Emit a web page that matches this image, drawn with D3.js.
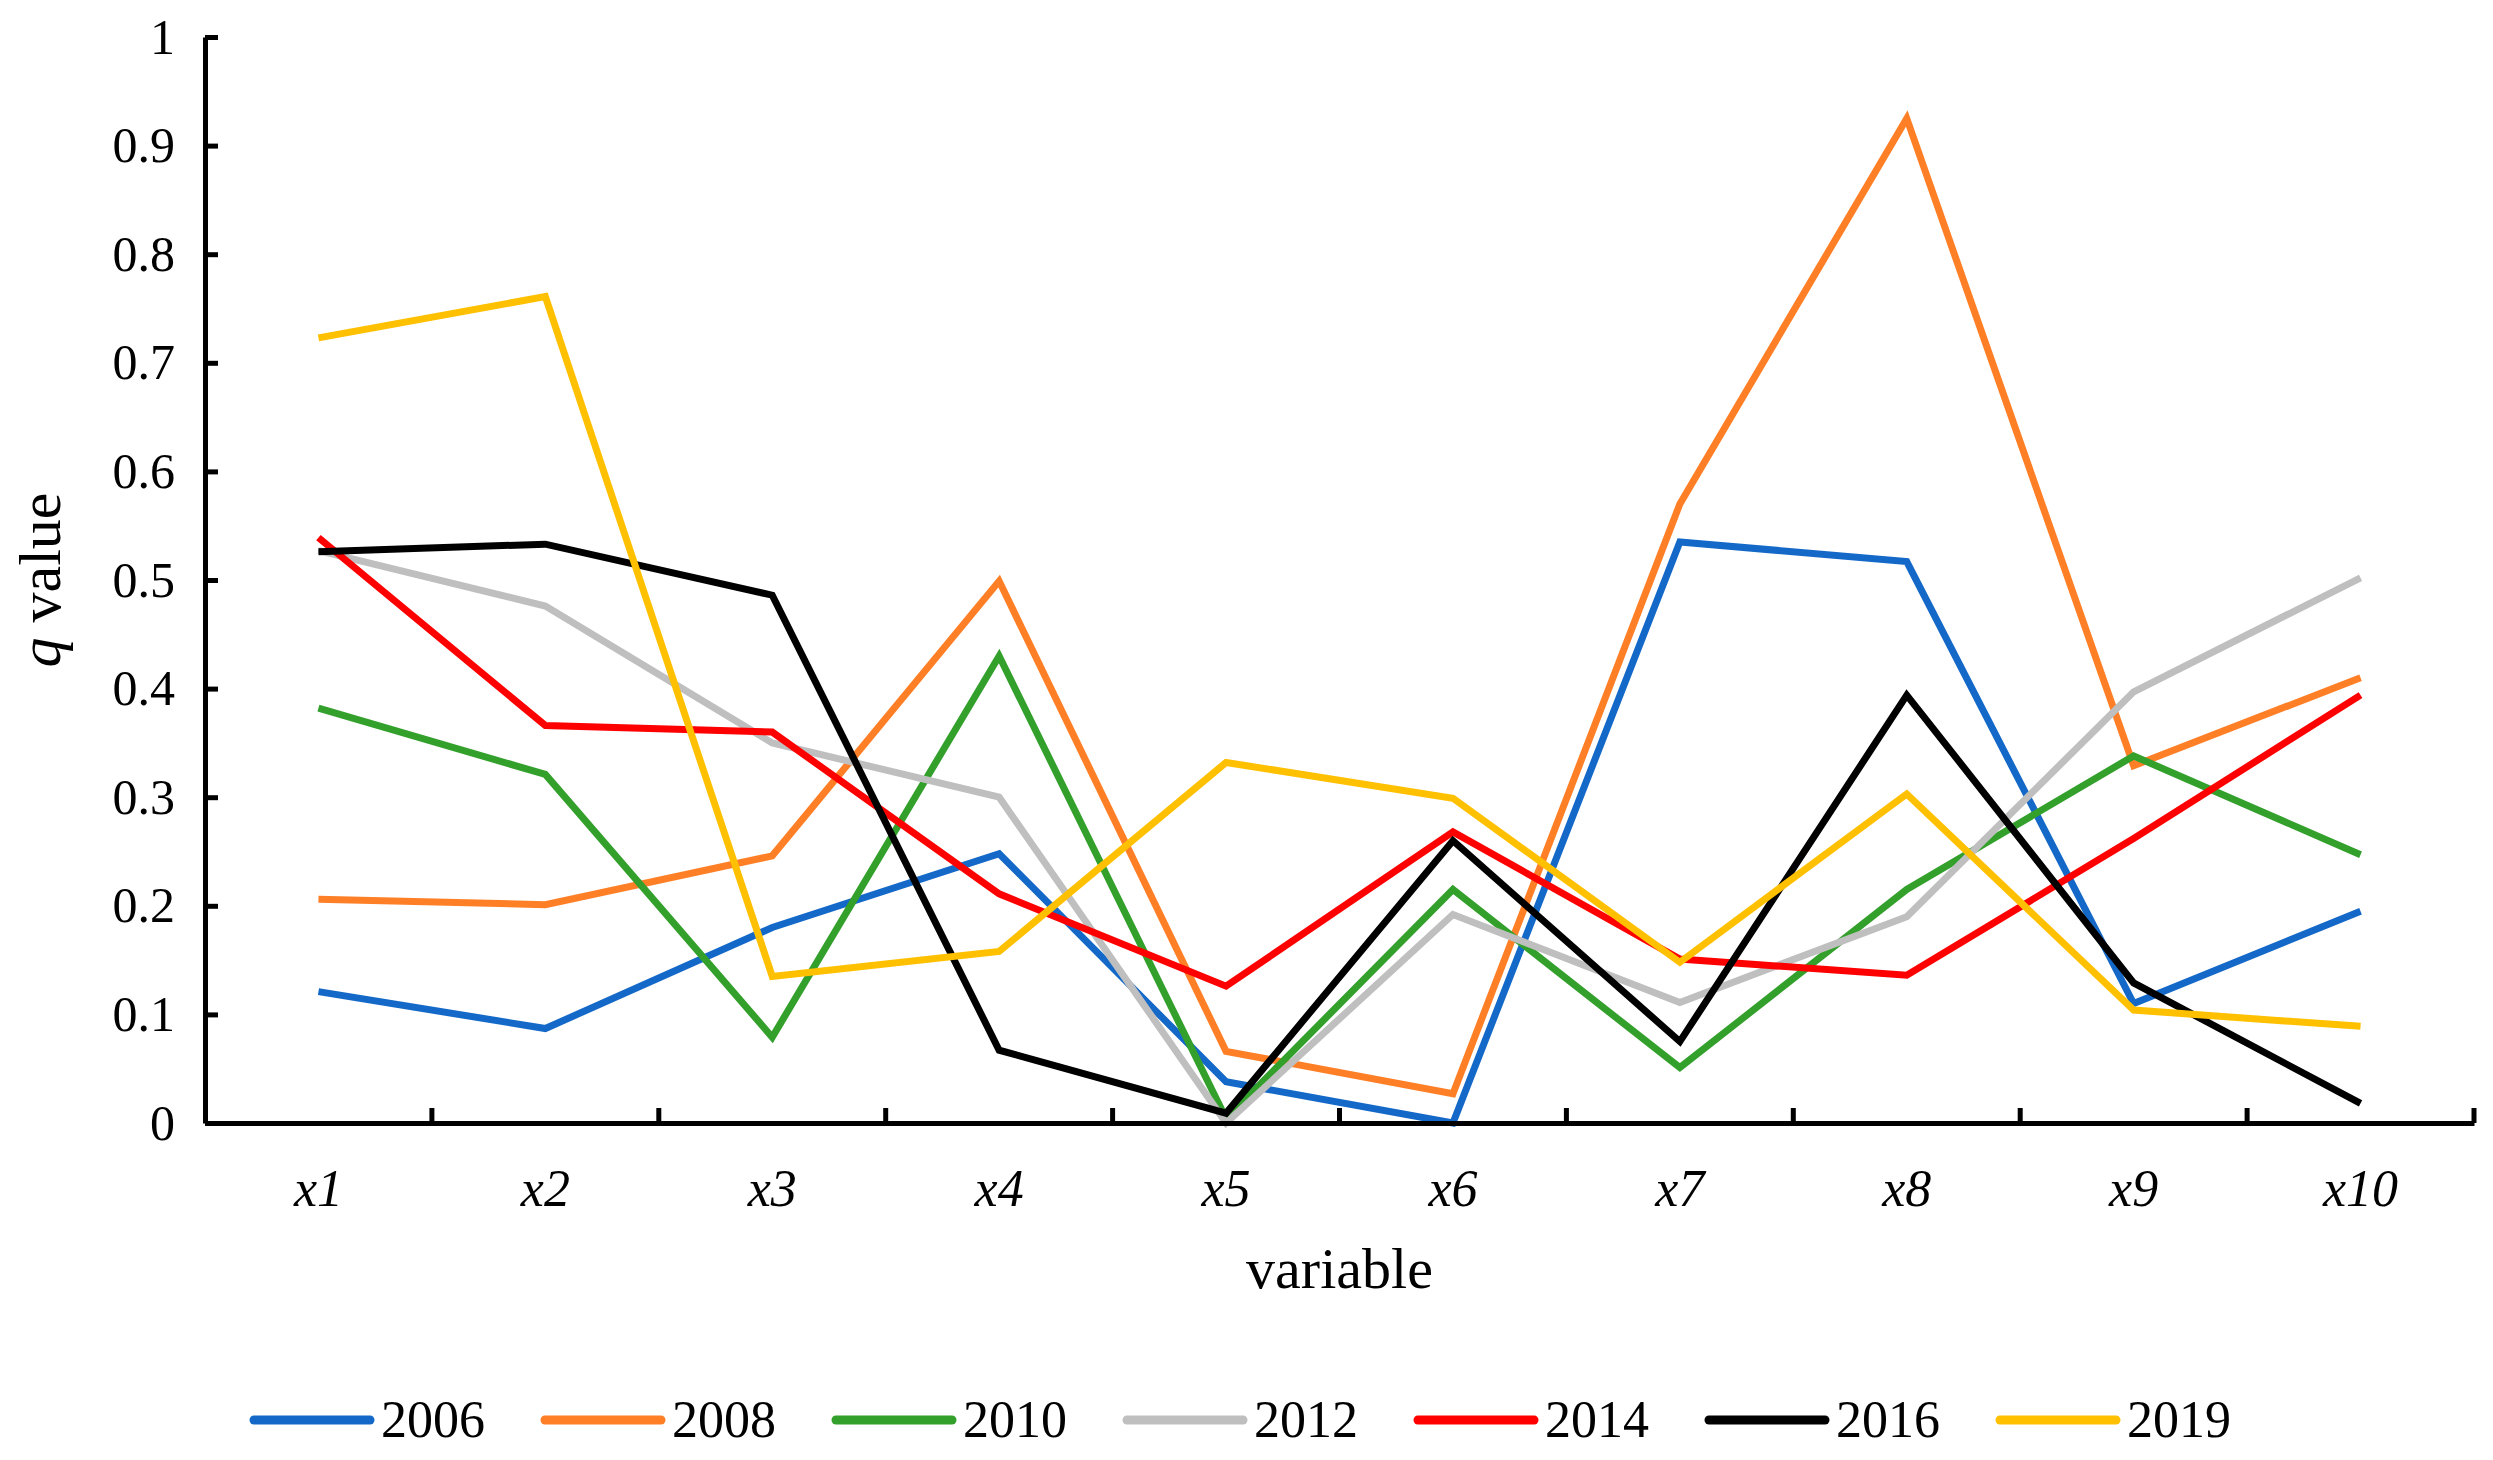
<!DOCTYPE html>
<html><head><meta charset="utf-8">
<script src="https://cdn.jsdelivr.net/npm/d3@7"></script>
<style>body{margin:0;background:#fff}svg{display:block}text{font-family:'Liberation Serif','Times New Roman',serif}</style>
</head><body>
<script>
const categories = ["x1","x2","x3","x4","x5","x6","x7","x8","x9","x10"];
const years = ["2006","2008","2010","2012","2014","2016","2019"];
const colors = ["#1469C8","#FF7F27","#33A02C","#BFBFBF","#FF0000","#000000","#FFC000"];
const v2006 = [0.121,0.087,0.180,0.248,0.038,0.000,0.535,0.517,0.110,0.195];
const v2008 = [0.206,0.201,0.246,0.499,0.066,0.027,0.570,0.925,0.329,0.410];
const v2010 = [0.382,0.321,0.079,0.430,0.004,0.215,0.051,0.215,0.338,0.247];
const v2012 = [0.527,0.476,0.350,0.300,0.000,0.192,0.111,0.190,0.397,0.502];
const v2014 = [0.539,0.366,0.360,0.211,0.126,0.268,0.151,0.136,0.262,0.394];
const v2016 = [0.526,0.533,0.486,0.067,0.009,0.260,0.075,0.394,0.129,0.018];
const v2019 = [0.723,0.761,0.135,0.158,0.332,0.299,0.148,0.303,0.104,0.089];
const yTicks = [0,0.1,0.2,0.3,0.4,0.5,0.6,0.7,0.8,0.9,1];
const series = [v2006,v2008,v2010,v2012,v2014,v2016,v2019];

const W = 2493, H = 1460;
const svg = d3.select("body").append("svg").attr("width",W).attr("height",H);
const font = "'Liberation Serif','Times New Roman',serif";
const L = 205, R = 2474, T = 37, B = 1123;
const x = d3.scaleBand().domain(categories).range([L,R]);
const y = d3.scaleLinear().domain([0,1]).range([B,T]);

// lines
const line = d3.line().x((d,i)=>x(categories[i])+x.bandwidth()/2).y(d=>y(d));
series.forEach((s,k)=>{
  svg.append("path").datum(s).attr("d",line).attr("fill","none")
    .attr("stroke",colors[k]).attr("stroke-width",7).attr("stroke-linejoin","miter");
});

// y axis
const yAxis = svg.append("g").attr("transform",`translate(${L},0)`)
  .call(d3.axisLeft(y).tickValues(yTicks).tickSize(-13).tickSizeOuter(0).tickPadding(30).tickFormat(d=>d3.format("")(+d.toFixed(1))));
yAxis.attr("font-family",font).attr("font-size",50);
yAxis.select(".domain").attr("stroke","#000").attr("stroke-width",5);
yAxis.selectAll(".tick line").attr("stroke","#000").attr("stroke-width",5);
yAxis.selectAll(".tick text").style("font-family",font).attr("font-size",50).attr("fill","#000");

// x axis
const xAxis = svg.append("g").attr("transform",`translate(0,${B})`)
  .call(d3.axisBottom(x).tickSize(0).tickPadding(0).tickFormat(""));
xAxis.select(".domain").attr("stroke","#000").attr("stroke-width",5);
const bounds = d3.range(categories.length+1).map(i=>L+i*x.step());
svg.append("g").selectAll("line").data(bounds.slice(1)).join("line")
  .attr("x1",d=>d).attr("x2",d=>d).attr("y1",B).attr("y2",B-15)
  .attr("stroke","#000").attr("stroke-width",5);
svg.append("g").selectAll("text").data(categories).join("text")
  .attr("x",d=>x(d)+x.bandwidth()/2).attr("y",1206)
  .attr("text-anchor","middle").attr("font-family",font).attr("font-style","italic")
  .attr("font-size",52).text(d=>d);

// axis titles
svg.append("text").attr("x",(L+R)/2).attr("y",1288).attr("text-anchor","middle")
  .attr("font-family",font).attr("font-size",58).text("variable");
const yt = svg.append("text").attr("transform",`translate(60,${(T+B)/2}) rotate(-90)`)
  .attr("text-anchor","middle").attr("font-family",font).attr("font-size",60);
yt.append("tspan").attr("font-style","italic").text("q");
yt.append("tspan").text(" value");

// legend
const legX0 = 254, legStep = 291, legY = 1420;
const lg = svg.append("g");
years.forEach((yr,k)=>{
  const gx = legX0 + k*legStep;
  lg.append("line").attr("x1",gx).attr("x2",gx+116).attr("y1",legY).attr("y2",legY)
    .attr("stroke",colors[k]).attr("stroke-width",9).attr("stroke-linecap","round");
  lg.append("text").attr("x",gx+127).attr("y",legY+17).attr("font-family",font)
    .attr("font-size",52).text(yr);
});
</script>
</body></html>
